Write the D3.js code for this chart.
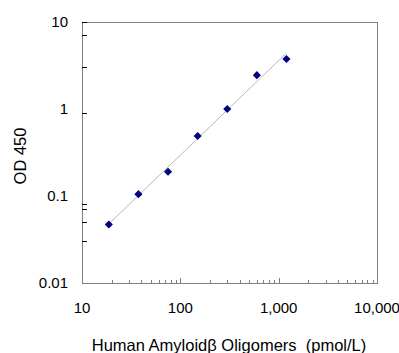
<!DOCTYPE html>
<html>
<head>
<meta charset="utf-8">
<script src="https://cdn.jsdelivr.net/npm/d3@7"></script>
<style>
  body { margin: 0; background: #fff; }
  text { font-family: "Liberation Sans", Arial, sans-serif; fill: #000; }
</style>
</head>
<body>
<div id="main"></div>
<script>
// standard curve
var conc = [18.75, 37.5, 75, 150, 300, 600, 1200];
var od = [0.047, 0.105, 0.19, 0.49, 1.0, 2.45, 3.75];

var xTickValues = [10, 100, 1000, 10000];
var xTickLabels = ['10', '100', '1,000', '10,000'];
var yTickValues = [10, 1, 0.1, 0.01];
var yTickLabels = ['10', '1', '0.1', '0.01'];
// the odd little ticks that show on the y axis
var yMinor = [7, 3, 0.9, 0.08, 0.07, 0.05, 0.03];

var width = 399, height = 353;
var plotL = 82, plotR = 377, plotT = 22, plotB = 283;

var svg = d3.select('#main').append('svg')
  .attr('width', width).attr('height', height);

var x = d3.scaleLog().domain([10, 10000]).range([plotL, plotR]);
var y = d3.scaleLog().domain([0.01, 10]).range([plotB, plotT]);

// frame
svg.append('rect')
  .attr('x', plotL + 0.5).attr('y', plotT + 0.5)
  .attr('width', plotR - plotL).attr('height', plotB - plotT)
  .attr('fill', 'none').attr('stroke', '#808080').attr('stroke-width', 1);

// x ticks, minors and majors, pointing inward
var xMinor = [];
[10, 100, 1000].forEach(function(d) {
  for (var k = 2; k <= 9; k++) xMinor.push(d * k);
});
svg.append('g').selectAll('line').data(xMinor.concat([100, 1000]))
  .enter().append('line')
  .attr('x1', function(d) { return Math.round(x(d)) + 0.5; })
  .attr('x2', function(d) { return Math.round(x(d)) + 0.5; })
  .attr('y1', plotB)
  .attr('y2', function(d) { return (d === 100 || d === 1000) ? plotB - 5 : plotB - 3; })
  .attr('stroke', '#808080');

svg.append('g').selectAll('line').data(yMinor)
  .enter().append('line')
  .attr('x1', plotL).attr('x2', plotL + 5)
  .attr('y1', function(d) { return Math.round(y(d)) + 0.5; })
  .attr('y2', function(d) { return Math.round(y(d)) + 0.5; })
  .attr('stroke', '#000');
svg.append('line')
  .attr('x1', plotL).attr('x2', plotL + 5)
  .attr('y1', plotT + 0.5).attr('y2', plotT + 0.5)
  .attr('stroke', '#000');

// tick labels
svg.append('g').selectAll('text').data(xTickValues)
  .enter().append('text')
  .attr('x', function(d) { return x(d); })
  .attr('y', 313)
  .attr('text-anchor', 'middle')
  .attr('font-size', 15)
  .text(function(d, i) { return xTickLabels[i]; });

svg.append('g').selectAll('text').data(yTickValues)
  .enter().append('text')
  .attr('x', 68)
  .attr('y', function(d) { return y(d) + 5; })
  .attr('text-anchor', 'end')
  .attr('font-size', 15)
  .text(function(d, i) { return yTickLabels[i]; });

// axis titles
svg.append('text')
  .attr('x', 229).attr('y', 351)
  .attr('text-anchor', 'middle')
  .attr('font-size', 16.5)
  .attr('xml:space', 'preserve')
  .text('Human Amyloid\u03b2 Oligomers  (pmol/L)');

svg.append('text')
  .attr('transform', 'translate(26,156) rotate(-90)')
  .attr('text-anchor', 'middle')
  .attr('font-size', 16.5)
  .text('OD 450');

// power trendline, least squares in log-log
var lx = conc.map(Math.log10), ly = od.map(Math.log10);
var mx = d3.mean(lx), my = d3.mean(ly);
var b = d3.sum(lx, function(d, i) { return (d - mx) * (ly[i] - my); }) /
        d3.sum(lx, function(d) { return (d - mx) * (d - mx); });
var a = my - b * mx;
var ends = [conc[0], conc[conc.length - 1]];
svg.append('line')
  .attr('x1', x(ends[0])).attr('y1', y(Math.pow(10, a + b * Math.log10(ends[0]))))
  .attr('x2', x(ends[1])).attr('y2', y(Math.pow(10, a + b * Math.log10(ends[1]))))
  .attr('stroke', '#b8b8b8').attr('stroke-width', 1);

// points
svg.append('g').selectAll('path').data(conc)
  .enter().append('path')
  .attr('d', d3.symbol().type(d3.symbolDiamond2).size(42))
  .attr('transform', function(d, i) { return 'translate(' + x(d) + ',' + y(od[i]) + ')'; })
  .attr('fill', '#000080');
</script>
</body>
</html>
